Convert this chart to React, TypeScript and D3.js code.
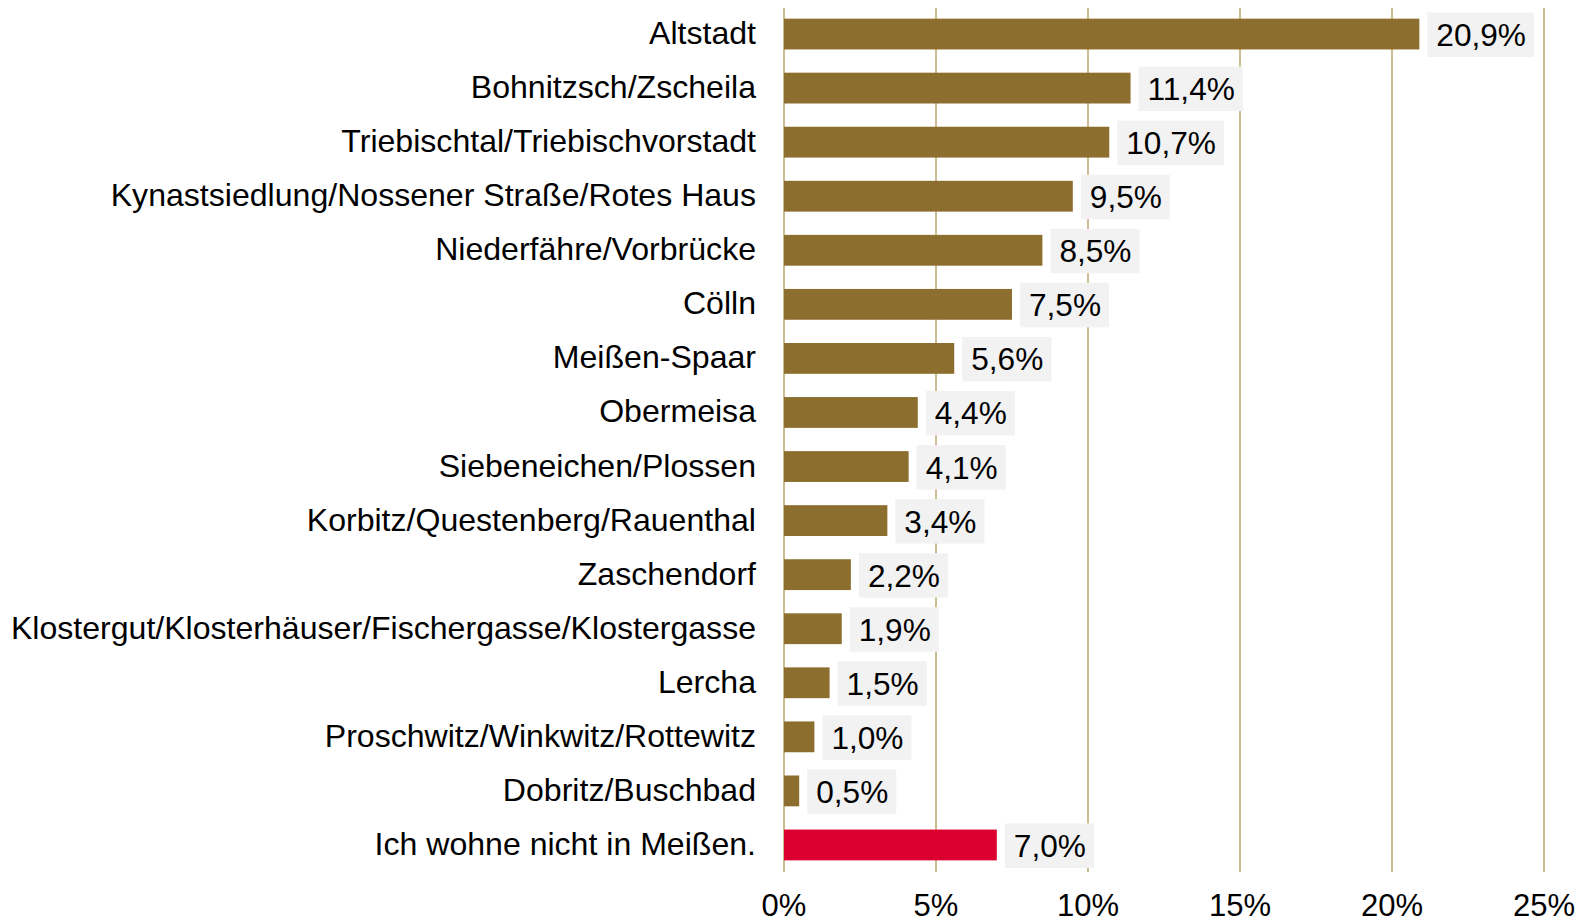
import React, { useEffect, useRef } from "react";
import * as d3 from "d3";

const categories = [
  "Altstadt",
  "Bohnitzsch/Zscheila",
  "Triebischtal/Triebischvorstadt",
  "Kynastsiedlung/Nossener Straße/Rotes Haus",
  "Niederfähre/Vorbrücke",
  "Cölln",
  "Meißen-Spaar",
  "Obermeisa",
  "Siebeneichen/Plossen",
  "Korbitz/Questenberg/Rauenthal",
  "Zaschendorf",
  "Klostergut/Klosterhäuser/Fischergasse/Klostergasse",
  "Lercha",
  "Proschwitz/Winkwitz/Rottewitz",
  "Dobritz/Buschbad",
  "Ich wohne nicht in Meißen.",
];
const values = [20.9, 11.4, 10.7, 9.5, 8.5, 7.5, 5.6, 4.4, 4.1, 3.4, 2.2, 1.9, 1.5, 1.0, 0.5, 7.0];
const highlighted = ["Ich wohne nicht in Meißen."];
const ticks = [0, 5, 10, 15, 20, 25];

const W = 1591;
const H = 923;
const FONT = "'Liberation Sans', Arial, sans-serif";
const GOLD = "#8C6F2F";
const RED = "#DC0031";
const GRID = "#CDBB93";
const LABEL_BG = "#F2F2F2";

export default function App() {
  const ref = useRef<SVGSVGElement | null>(null);

  useEffect(() => {
    const svg = d3.select(ref.current);
    svg.selectAll("*").remove();

    const x = d3.scaleLinear().domain([0, 25]).range([784, 1544]);
    const y = d3
      .scaleBand<string>()
      .domain(categories)
      .range([7, 872])
      .paddingInner(0.43)
      .paddingOuter(0.215);

    const data = categories.map((c, i) => ({ c, v: values[i] }));

    // gridlines
    svg
      .append("g")
      .selectAll("line")
      .data(ticks)
      .join("line")
      .attr("x1", (d) => x(d))
      .attr("x2", (d) => x(d))
      .attr("y1", 8)
      .attr("y2", 872)
      .attr("stroke", GRID)
      .attr("stroke-width", 2);

    // tick labels
    svg
      .append("g")
      .selectAll("text")
      .data(ticks)
      .join("text")
      .attr("x", (d) => x(d))
      .attr("y", 916)
      .attr("text-anchor", "middle")
      .attr("font-family", FONT)
      .attr("font-size", 31)
      .attr("fill", "#000")
      .text((d) => `${d}%`);

    // bars
    svg
      .append("g")
      .selectAll("rect")
      .data(data)
      .join("rect")
      .attr("x", x(0))
      .attr("y", (d) => y(d.c)!)
      .attr("width", (d) => x(d.v) - x(0))
      .attr("height", y.bandwidth())
      .attr("fill", (d) => (highlighted.includes(d.c) ? RED : GOLD));

    // category labels
    const sx = 1.035;
    svg
      .append("g")
      .selectAll("text")
      .data(data)
      .join("text")
      .attr(
        "transform",
        (d) => `translate(756,${y(d.c)! + y.bandwidth() / 2 + 10}) scale(${sx},1)`
      )
      .attr("text-anchor", "end")
      .attr("font-family", FONT)
      .attr("font-size", 31)
      .attr("fill", "#000")
      .text((d) => d.c);

    // value labels with background
    const vg = svg
      .append("g")
      .selectAll("g")
      .data(data)
      .join("g")
      .attr(
        "transform",
        (d) => `translate(${x(d.v) + 8},${y(d.c)! + y.bandwidth() / 2})`
      );
    const rects = vg
      .append("rect")
      .attr("y", -21.5)
      .attr("height", 44.5)
      .attr("fill", LABEL_BG);
    const texts = vg
      .append("text")
      .attr("transform", "translate(9,12) scale(1.02,1)")
      .attr("font-family", FONT)
      .attr("font-size", 31)
      .attr("fill", "#000")
      .text((d) => d.v.toFixed(1).replace(".", ",") + "%");
    texts.each(function (_d, i) {
      const w = (this as SVGTextElement).getComputedTextLength() * 1.02;
      d3.select(rects.nodes()[i]).attr("width", w + 17);
    });
  }, []);

  return (
    <svg
      ref={ref}
      width={W}
      height={H}
      style={{ position: "absolute", left: 0, top: 0, background: "#fff" }}
    />
  );
}
